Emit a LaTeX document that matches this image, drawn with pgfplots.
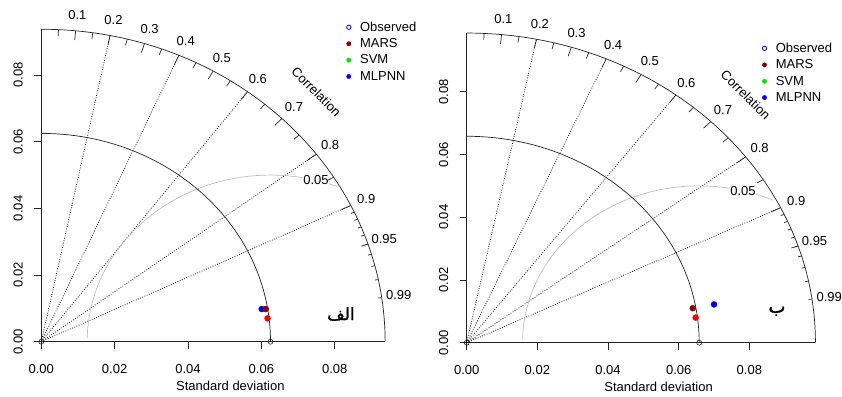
\documentclass[border=0pt]{standalone}
\usepackage{pgfplots}
\pgfplotsset{compat=1.18}
\usepackage{fontspec}
\setmainfont{Liberation Sans}
\newfontfamily\arabicfont[Script=Arabic, FakeBold=1.5]{DejaVu Sans}
\TeXXeTstate=1
\definecolor{rmsgray}{RGB}{190,190,190}
\definecolor{axgray}{RGB}{35,35,35}
\definecolor{marsred}{RGB}{139,0,0}
\definecolor{svmgreen}{RGB}{0,230,0}
\newcommand{\fs}{\fontsize{13}{15}\selectfont}

\pgfplotsset{taylor/.style={
  scale only axis, clip=false,
  xmin=0, ymin=0,
  axis lines=left, axis line style={draw=none},
  tick align=outside, major tick length=7pt,
  tick style={axgray, line width=0.7pt},
  xtick={0,0.02,0.04,0.06,0.08}, ytick={0,0.02,0.04,0.06,0.08},
  xticklabels={0.00,0.02,0.04,0.06,0.08},
  yticklabels={0.00,0.02,0.04,0.06,0.08},
  minor tick num=0, scaled ticks=false,
  tick label style={font=\fs},
  xticklabel shift=12pt, yticklabel shift=8pt,
  yticklabel style={rotate=90, anchor=south},
  legend style={draw=none, fill=none, font=\fs, inner sep=0pt, row sep=2.8pt,
    nodes={inner sep=1.5pt}},
  legend cell align=left,
  legend image code/.code={\path[draw=none, fill=none] (0pt,-1pt) rectangle (13.8pt,1pt); \draw[#1] plot coordinates {(4pt,0pt)};},
}}

% frame: \R = max sd, \S = reference sd, \A = start angle of RMS arc
\newcommand{\taylorframe}{%
  \draw[axgray, line width=0.7pt] (axis cs:0,\R) -- (axis cs:0,0) -- (axis cs:\R,0);
  \pgfplotsinvokeforeach{0.2,0.4,0.6,0.8,0.9}{%
    \draw[black, line width=0.75pt, dash pattern=on 0.8pt off 1.6pt] (axis cs:0,0) -- (axis cs:{\R*##1},{\R*sqrt(1-##1*##1)});}
  \draw[rmsgray, line width=0.7pt] (axis cs:{\S+0.05*cos(\A)},{0.05*sin(\A)}) arc[start angle=\A, end angle=178.8, radius=0.05];
  \node[fill=white, inner sep=0.5pt, font=\fs] at (axis cs:{\S+0.05*cos(75.63)},{0.05*sin(75.63)}) {0.05};
  \draw[axgray, line width=0.7pt] (axis cs:\R,0) arc[start angle=0, end angle=90, radius=\R];
  \draw[axgray, line width=0.7pt] (axis cs:\S,0) arc[start angle=0, end angle=90, radius=\S];
  \pgfplotsinvokeforeach{0.1,0.2,0.3,0.4,0.5,0.6,0.7,0.8,0.9}{%
    \draw[axgray, line width=0.7pt] (axis cs:{\R*##1},{\R*sqrt(1-##1*##1)}) -- (axis cs:{0.97*\R*##1},{0.97*\R*sqrt(1-##1*##1)});
    \node[font=\fs] at (axis cs:{1.05*\R*##1},{1.05*\R*sqrt(1-##1*##1)}) {##1};}
  \pgfplotsinvokeforeach{0.05,0.15,0.25,0.35,0.45,0.55,0.65,0.75,0.85,0.95}{%
    \draw[axgray, line width=0.7pt] (axis cs:{\R*##1},{\R*sqrt(1-##1*##1)}) -- (axis cs:{0.98*\R*##1},{0.98*\R*sqrt(1-##1*##1)});}
  \pgfplotsinvokeforeach{0.91,0.92,0.93,0.94,0.95,0.96,0.97,0.98,0.99}{%
    \draw[axgray, line width=0.7pt] (axis cs:{\R*##1},{\R*sqrt(1-##1*##1)}) -- (axis cs:{0.99*\R*##1},{0.99*\R*sqrt(1-##1*##1)});}
  \pgfplotsinvokeforeach{0.95,0.99}{%
    \node[font=\fs] at (axis cs:{1.05*\R*##1},{1.05*\R*sqrt(1-##1*##1)}) {##1};}
  \node[font=\fs, rotate=-45] at (axis cs:{0.8*\R},{0.8*\R}) {Correlation};
  \node[font=\fs] at (axis description cs:0.5,0) [yshift=-44.5pt] {Standard deviation};
  \addlegendimage{only marks, mark=o, mark size=2.2pt, blue, line width=0.8pt}
  \addlegendentry{Observed}
  \addlegendimage{only marks, mark=*, mark size=2.2pt, marsred}
  \addlegendentry{MARS}
  \addlegendimage{only marks, mark=*, mark size=2.2pt, svmgreen}
  \addlegendentry{SVM}
  \addlegendimage{only marks, mark=*, mark size=2.2pt, blue}
  \addlegendentry{MLPNN}
}

\begin{document}
\begin{tikzpicture}
% ---------- left panel ----------
\def\R{0.09375}\def\S{0.0625}\def\A{68.75}
\begin{axis}[taylor, at={(41.3pt,54.3pt)}, anchor=south west,
  width=378.1pt, height=343.6pt, xmax=0.1031, ymax=0.1031,
  legend style={at={(axis cs:0.0827,0.0965)}, anchor=north west}]
\taylorframe
\addplot[only marks, mark=o, mark size=2.5pt, axgray, line width=0.6pt, forget plot] coordinates {(0.0625,0) (0,0)};
\addplot[only marks, mark=*, mark size=3pt, blue, forget plot] coordinates {(0.0601,0.0098)};
\addplot[only marks, mark=*, mark size=3pt, marsred, forget plot] coordinates {(0.0612,0.0098)};
\addplot[only marks, mark=*, mark size=3pt, red, forget plot] coordinates {(0.0617,0.0070)};
\node[font=\arabicfont\fontsize{17}{19}\selectfont] at (axis cs:0.0817,0.0083) {\beginR الف\endR};
\end{axis}
% ---------- right panel ----------
\def\R{0.0987}\def\S{0.0658}\def\A{65.32}
\begin{axis}[taylor, at={(466.7pt,53.3pt)}, anchor=south west,
  width=383.7pt, height=340.7pt, xmax=0.1086, ymax=0.1086,
  legend style={at={(axis cs:0.0831,0.0961)}, anchor=north west}]
\taylorframe
\addplot[only marks, mark=o, mark size=2.5pt, axgray, line width=0.6pt, forget plot] coordinates {(0.0658,0) (0,0)};
\addplot[only marks, mark=*, mark size=3pt, marsred, forget plot] coordinates {(0.0640,0.0110)};
\addplot[only marks, mark=*, mark size=3pt, red, forget plot] coordinates {(0.0648,0.0080)};
\addplot[only marks, mark=*, mark size=3pt, blue, forget plot] coordinates {(0.0700,0.0122)};
\node[font=\arabicfont\fontsize{18}{20}\selectfont] at (axis cs:0.0878,0.0100) {\beginR ب\endR};
\end{axis}
\pgfresetboundingbox
\useasboundingbox (0,0) rectangle (842pt,396pt);
\end{tikzpicture}
\end{document}
